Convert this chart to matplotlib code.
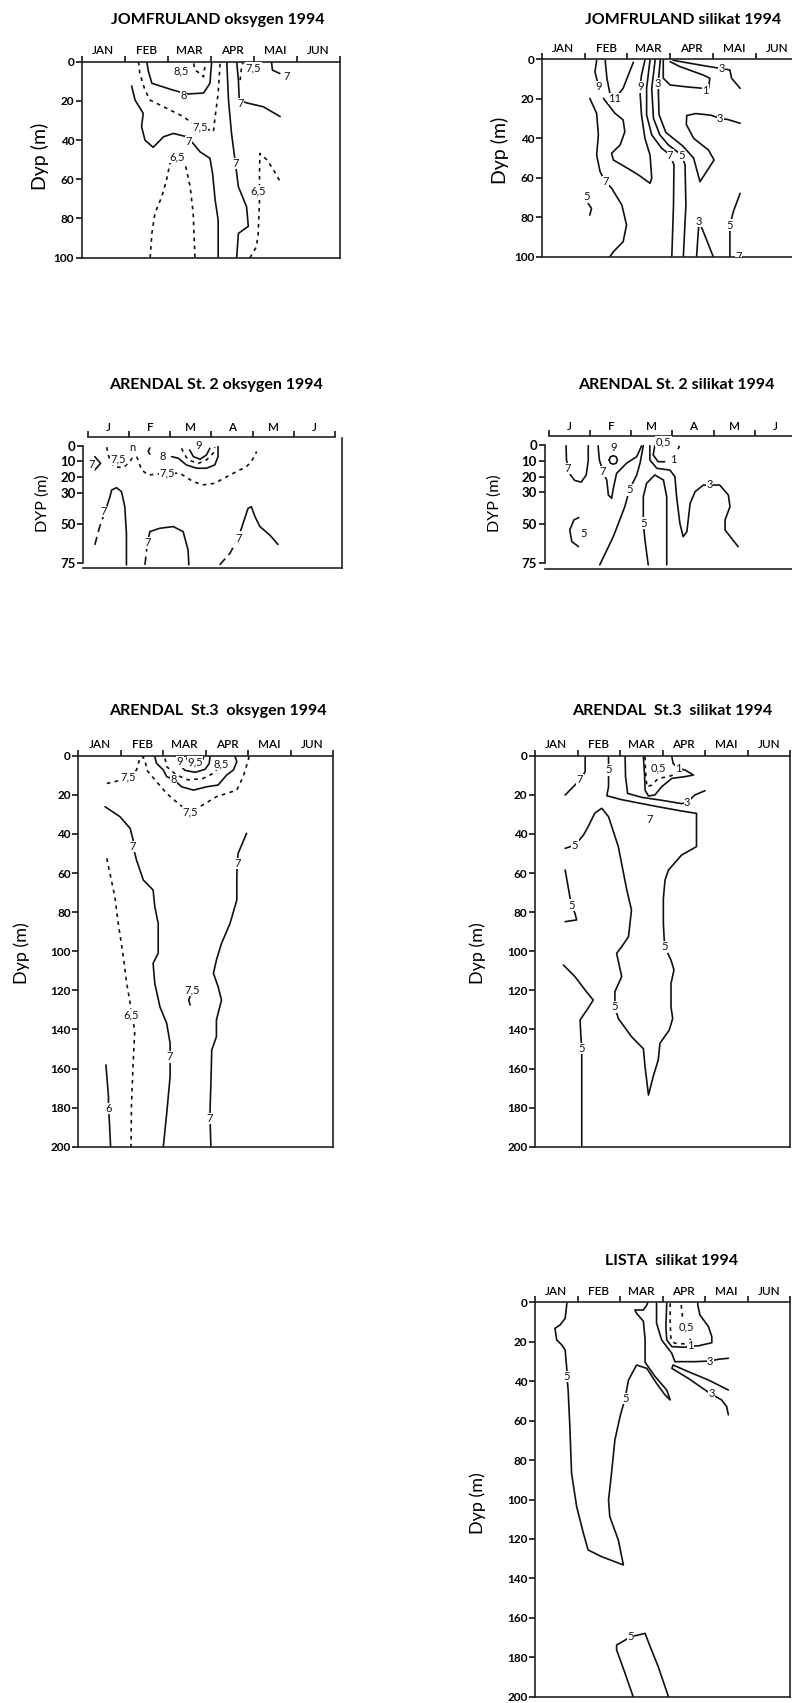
import matplotlib
matplotlib.use("Agg")
import matplotlib.pyplot as plt

W, H = 792, 1703
plt.rcParams['font.family'] = ['Lato', 'DejaVu Sans']

MONTHS_LONG = ['JAN', 'FEB', 'MAR', 'APR', 'MAI', 'JUN']
MONTHS_SHORT = ['J', 'F', 'M', 'A', 'M', 'J']
DEPTH_TICKS_100 = [0, 20, 40, 60, 80, 100]
DEPTH_TICKS_75 = [0, 10, 20, 30, 50, 75]
DEPTH_TICKS_200 = [0, 20, 40, 60, 80, 100, 120, 140, 160, 180, 200]

# ---------------- contour lines: (month since 1 Jan, depth m) ----------------
# JOMFRULAND oksygen
JOM_OX_8 = [(1.51, 0), (1.55, 5), (1.63, 11), (2.05, 14), (2.44, 16.5), (2.83, 16), (2.98, 11), (3.0, 5), (3.02, 0)]
JOM_OX_7A = [(1.16, 12.4), (1.24, 19.6), (1.43, 26.4), (1.39, 33), (1.47, 40), (1.66, 43.7), (1.9, 38.3), (2.13, 36.6),
             (2.44, 38.3), (2.6, 42), (2.75, 46), (2.98, 49.3), (3.04, 57), (3.1, 70.6), (3.17, 80.8), (3.17, 100)]
JOM_OX_7B = [(3.37, 0), (3.41, 19.6), (3.48, 36.6), (3.56, 50), (3.64, 63.8), (3.83, 74), (3.87, 84), (3.64, 87.6), (3.6, 100)]
JOM_OX_7C = [(3.6, 0), (3.64, 9.4), (3.66, 19.6), (3.83, 21), (4.22, 23), (4.61, 28)]
JOM_OX_7D = [(4.41, 0), (4.43, 4.3), (4.6, 6)]
JOM_OX_85 = [(2.6, 0.9), (2.63, 4.3), (2.75, 6), (2.83, 7.7), (2.86, 2.6), (2.83, 0)]
JOM_OX_75A = [(1.32, 0), (1.35, 6), (1.47, 14.5), (1.59, 19.6), (1.9, 23), (2.36, 28), (2.52, 30.6), (2.75, 33),
              (3.06, 35.7), (3.1, 28), (3.17, 16), (3.21, 2.5), (3.21, 0)]
JOM_OX_75B = [(3.68, 9.4), (3.71, 3.4), (3.75, 0)]
JOM_OX_65A = [(1.59, 100), (1.63, 87.6), (1.7, 77.4), (1.86, 68.9), (1.97, 60.4), (2.05, 51.9), (2.21, 48.5), (2.4, 51.9),
              (2.52, 63.8), (2.59, 77.4), (2.63, 100)]
JOM_OX_65B = [(3.91, 100), (4.06, 94.4), (4.1, 87.6), (4.13, 70.6), (4.13, 57), (4.14, 46.8), (4.3, 50), (4.45, 55), (4.61, 61.2)]
JOM_OX_LABELS = [('8', 2.36, 17.5), ('7', 2.48, 40.8), ('7', 3.58, 52), ('7', 3.69, 21.5), ('7', 4.75, 7.5),
                 ('8,5', 2.32, 4.6), ('7,5', 2.75, 33.5), ('7,5', 3.99, 3), ('6,5', 2.21, 48.5), ('6,5', 4.1, 66)]

# JOMFRULAND silikat
JOM_SI_9A = [(1.28, 0.5), (1.24, 6.3), (1.3, 11.5)]
JOM_SI_11 = [(1.48, 0.5), (1.52, 9.6), (1.59, 17.2), (1.71, 19.8), (1.9, 14.7), (2.02, 8), (2.14, 1.5)]
JOM_SI_7 = [(1.12, 19.8), (1.28, 27.4), (1.32, 38.3), (1.28, 48.5), (1.36, 56.9), (1.48, 62), (1.63, 65.3), (1.87, 73.8),
            (1.98, 83.9), (1.9, 92.4), (1.67, 97.5), (1.59, 100)]
JOM_SI_9B = [(1.44, 19.8), (1.71, 27.4), (1.9, 30.7), (1.94, 36.7), (1.83, 43.4), (1.63, 47.6), (1.67, 51), (1.94, 54.4),
             (2.26, 58.6), (2.53, 62.8), (2.57, 60.3), (2.53, 48.5), (2.41, 40), (2.33, 28.2), (2.3, 18.1), (2.3, 13.9),
             (2.33, 8), (2.41, 0.5)]
JOM_SI_7M = [(2.53, 0.3), (2.45, 14.7), (2.45, 28.2), (2.57, 38.3), (2.8, 45), (3.0, 48.5), (3.09, 53.5), (3.08, 73.8), (3.04, 100)]
JOM_SI_5M = [(2.65, 0.3), (2.57, 14.7), (2.61, 29.9), (2.76, 38.3), (2.96, 43.4), (3.27, 48.5), (3.35, 53.5), (3.37, 73.8), (3.31, 100)]
JOM_SI_3M = [(2.77, 0.3), (2.72, 12.2), (2.74, 28), (2.9, 37), (3.3, 44), (3.55, 50), (3.7, 62), (3.85, 57), (4.03, 51),
             (3.9, 46), (3.55, 40), (3.38, 33), (3.39, 28.5), (3.6, 27.5), (3.95, 28.3), (4.17, 29.9), (4.35, 30.5), (4.64, 32.4)]
JOM_SI_1 = [(2.84, 0.5), (2.84, 9.6), (3.0, 13), (3.4, 14), (3.78, 14.7), (3.82, 15.6), (3.9, 14.7), (3.93, 9.6), (3.78, 8),
            (3.23, 3.7), (3.0, 1.2)]
JOM_SI_3T = [(3.07, 0.5), (3.7, 2.9), (4.17, 4.6), (4.4, 5.4), (4.44, 9.6), (4.64, 14.7)]
JOM_SI_3B = [(3.62, 100), (3.66, 87.4), (3.68, 82.3), (3.78, 87.4), (4.01, 100)]
JOM_SI_5R = [(4.64, 67.9), (4.48, 77.2), (4.4, 84), (4.4, 89), (4.4, 100)]
JOM_SI_5L = [(1.08, 73), (1.16, 75.5), (1.12, 78.9)]
JOM_SI_LABELS = [('9', 1.32, 13.9), ('11', 1.71, 19.8), ('7', 1.48, 62), ('9', 2.3, 13.9), ('7', 3.0, 48.5),
                 ('5', 3.27, 48.5), ('3', 2.72, 12.2), ('3', 4.17, 29.9), ('1', 3.82, 15.6), ('3', 4.2, 4.6),
                 ('3', 3.68, 82), ('5', 4.4, 84), ('5', 1.05, 69.6), ('7', 4.6, 100)]

# ARENDAL St. 2 oksygen
AR2_OX_7L = [(0.16, 7), (0.3, 11.3), (0.16, 15.5)]
AR2_OX_75A = [(0.45, 1), (0.49, 6), (0.55, 11), (0.65, 13.5), (0.85, 14), (1.01, 10.4), (1.09, 7), (1.17, 1)]
AR2_OX_75B = [(1.18, 7), (1.3, 15.5), (1.46, 18.7), (1.91, 17.6), (2.23, 17.6), (2.56, 23), (2.8, 25), (3.08, 24),
              (3.45, 18.7), (3.85, 13.4), (3.97, 10.2), (4.1, 3.8)]
AR2_OX_8 = [(2.03, 7), (2.19, 8), (2.39, 12.3), (2.64, 14.4), (2.88, 14.4), (3.08, 12.3), (3.16, 7), (3.16, 0.6)]
AR2_OX_8S = [(1.5, 1.5), (1.46, 3.5), (1.5, 5.5)]
AR2_OX_9 = [(2.47, 2.8), (2.56, 7), (2.72, 8.7), (2.88, 5.9), (2.96, 1.7)]
AR2_OX_85 = [(2.27, 1.7), (2.33, 5), (2.43, 9.1), (2.68, 11.3), (2.88, 9.1), (3.04, 4.9), (3.08, 1)]
AR2_OX_7A_D = [(0.16, 63.3), (0.28, 51.6), (0.45, 38.9)]
AR2_OX_7A = [(0.45, 38.9), (0.53, 32.5), (0.57, 28.3), (0.69, 26.8), (0.81, 29.3), (0.89, 38.9), (0.93, 55.9), (0.93, 76)]
AR2_OX_7B_D = [(1.38, 76), (1.44, 62.2), (1.5, 54.8)]
AR2_OX_7B = [(1.5, 54.8), (1.74, 52.7), (2.07, 51.6), (2.31, 54.8), (2.43, 66.5), (2.45, 76)]
AR2_OX_7C_D = [(3.2, 76), (3.45, 68.6), (3.65, 59), (3.77, 49.5)]
AR2_OX_7C = [(3.77, 49.5), (3.89, 40), (3.97, 38.9), (4.06, 45.3), (4.18, 51.6), (4.42, 57), (4.62, 63)]
AR2_OX_LABELS = [('7', 0.08, 11.9), ('7,5', 0.73, 8.7), ('7,5', 1.91, 17.6), ('8', 1.82, 7), ('9', 2.68, -0.4),
                 ('n', 1.07, 1.5), ('7', 0.38, 42), ('7', 1.44, 62), ('7', 3.65, 59)]

# ARENDAL St. 2 silikat
AR2_SI_7A = [(0.41, 0.5), (0.42, 9.5), (0.52, 19), (0.62, 22.5), (0.78, 23.5), (0.9, 19), (0.95, 10), (0.95, 0.5)]
AR2_SI_7B = [(1.19, 0.5), (1.22, 9.5), (1.31, 16.9), (1.4, 22.2), (1.44, 31.7), (1.52, 33.8), (1.56, 27.5), (1.64, 18),
             (1.88, 11.6), (2.13, 7.4), (2.25, 0.5)]
AR2_SI_9 = [(1.46, 9.5), (1.49, 7.5), (1.56, 6.8), (1.63, 7.5), (1.66, 9.5), (1.63, 11.5), (1.56, 12.2), (1.49, 11.5), (1.46, 9.5)]
AR2_SI_5A = [(1.23, 76), (1.56, 58.1), (1.84, 39.1), (1.95, 28.5), (2.13, 19), (2.21, 11.6), (2.29, 0.5)]
AR2_SI_5B = [(2.41, 76), (2.33, 60.2), (2.29, 49.6), (2.29, 32.8), (2.37, 24.3), (2.57, 19), (2.78, 22.2), (2.86, 32.8), (2.86, 76)]
AR2_SI_3 = [(2.45, 0.5), (2.45, 9.5), (2.62, 14.8), (2.94, 15.9), (3.06, 20.1), (3.1, 32.8), (3.18, 49.6), (3.26, 58.1),
            (3.35, 55), (3.43, 37), (3.55, 29.6), (3.75, 25.4), (3.91, 25.4), (4.15, 25.4), (4.36, 31.7), (4.4, 39.1),
            (4.28, 47.6), (4.28, 53.9), (4.6, 64.5)]
AR2_SI_1 = [(2.57, 0.5), (2.53, 6.3), (2.65, 10.6), (2.81, 10.6)]
AR2_SI_05 = [(3.17, 0.5), (3.1, 5)]
AR2_SI_5C = [(0.72, 46), (0.6, 47.5), (0.5, 53.9), (0.55, 61.2), (0.71, 64.4)]
AR2_SI_LABELS = [('7', 0.46, 14.8), ('7', 1.31, 16.9), ('9', 1.56, 1.5), ('5', 1.95, 28.5), ('5', 2.29, 49.6),
                 ('3', 3.91, 25), ('1', 3.02, 9.5), ('0,5', 2.78, -2.2), ('5', 0.83, 56)]

# ARENDAL St.3 oksygen
AR3_OX_6 = [(0.65, 158.2), (0.71, 174.4), (0.71, 180.4), (0.73, 186.4), (0.76, 200)]
AR3_OX_65 = [(0.67, 52.5), (0.86, 72.1), (0.94, 85.8), (1.06, 102.8), (1.14, 116.5), (1.22, 126.7), (1.25, 132.7),
             (1.33, 140.3), (1.29, 157.4), (1.25, 179.5), (1.24, 200)]
AR3_OX_7L = [(0.63, 26.1), (0.98, 31.2), (1.22, 37.2), (1.29, 43.1), (1.29, 46.5), (1.37, 53.4), (1.53, 63.6), (1.76, 68.7),
             (1.8, 77.2), (1.88, 85.8), (1.88, 101.1), (1.76, 106.2), (1.8, 116.5), (1.92, 128.4), (2.08, 136.9),
             (2.16, 147.1), (2.16, 154), (2.16, 164.2), (2.08, 183), (2.0, 200)]
AR3_OX_7R = [(3.96, 39.7), (3.76, 50), (3.74, 55.1), (3.73, 61.9), (3.73, 73.8), (3.57, 85.8), (3.37, 96), (3.25, 104.5),
             (3.18, 111.3), (3.29, 118.2), (3.37, 125), (3.25, 135.2), (3.25, 143.7), (3.14, 150.6), (3.12, 167.6),
             (3.1, 181.2), (3.1, 185.5), (3.12, 200)]
AR3_OX_75S = [(2.63, 123), (2.6, 125), (2.63, 127.5)]
AR3_OX_75 = [(0.67, 14.2), (0.86, 13.3), (1.18, 11.1), (1.37, 7.3), (1.45, 1.4), (1.5, 0.3), (1.57, 2), (1.61, 7.3),
             (1.84, 13.3), (2.08, 19.3), (2.39, 25.2), (2.63, 28.6), (2.86, 26.1), (3.25, 21), (3.73, 17.6),
             (3.88, 10.7), (4.0, 2.2), (4.02, 0)]
AR3_OX_8 = [(1.8, 0.5), (1.84, 3.9), (2.0, 7.3), (2.08, 10.7), (2.24, 12.1), (2.43, 15.9), (2.71, 17.6), (3.02, 15.9),
            (3.29, 15), (3.49, 9.9), (3.65, 7.3), (3.73, 3.1), (3.69, 0.5)]
AR3_OX_85 = [(2.04, 1.4), (2.08, 5.6), (2.31, 9.9), (2.59, 12.4), (2.94, 11.6), (3.18, 9), (3.3, 6)]
AR3_OX_9 = [(2.31, 0.5), (2.35, 4), (2.51, 7.5), (2.75, 8.5), (2.98, 7), (3.08, 4), (3.1, 0.5)]
AR3_OX_95 = [(2.55, 1), (2.6, 4), (2.75, 5.5), (2.9, 4), (2.95, 0.5)]
AR3_OX_LABELS = [('6', 0.71, 180.4), ('6,5', 1.25, 132.7), ('7', 1.29, 46.5), ('7', 2.16, 154), ('7', 3.74, 55.1),
                 ('7', 3.1, 185.5), ('7,5', 2.67, 119.9), ('7,5', 1.18, 11.1), ('7,5', 2.63, 28.6), ('8', 2.24, 12.1),
                 ('8,5', 3.37, 4.3), ('9', 2.39, 3.1), ('9,5', 2.75, 3.1)]

# ARENDAL St.3 silikat
AR3_SI_7 = [(1.18, 0.5), (1.18, 8.2), (1.06, 12.4), (0.9, 15.9), (0.71, 20.1)]
AR3_SI_5 = [(1.73, 0.5), (1.73, 7.3), (1.73, 15.9), (1.69, 20.5), (2.04, 22.5), (2.82, 25.8), (3.45, 28.3), (3.8, 29.5),
            (3.8, 46.5), (3.45, 50.8), (3.14, 58.5), (3.06, 63.6), (3.02, 73), (3.02, 85.8), (3.05, 97.7), (3.2, 104.5),
            (3.27, 109.6), (3.2, 116.5), (3.2, 128.4), (3.24, 134.4), (3.16, 140.3), (2.94, 147.1), (2.9, 155.6),
            (2.78, 164.2), (2.67, 173.6), (2.59, 159.2), (2.55, 149.9), (2.27, 143.7), (1.96, 134.4), (1.88, 128.4),
            (1.88, 120.7), (2.04, 113), (1.92, 101.1), (2.04, 97.7), (2.2, 92.6), (2.27, 78.9), (2.16, 68.7),
            (1.96, 46.5), (1.73, 31.2), (1.57, 26.9), (1.41, 29.3), (1.25, 36.3), (1.14, 40.6), (0.94, 45.7), (0.71, 47.4)]
AR3_SI_3 = [(2.12, 0.5), (2.13, 10.7), (2.18, 19.3), (2.51, 21.3), (2.98, 22.8), (3.45, 24.5), (3.58, 23.9), (3.76, 20.1), (4.0, 17.9)]
AR3_SI_05 = [(2.59, 0.5), (2.6, 7.3), (2.63, 15.9), (2.75, 15), (2.9, 11.6), (3.14, 10.7), (3.3, 9.5)]
AR3_SI_1 = [(2.55, 0.5), (2.58, 10.7), (2.59, 17.6), (2.67, 20.6), (2.82, 20.1), (2.98, 15.9), (3.22, 11.6), (3.53, 10.7),
            (3.73, 9.9), (3.53, 7.3), (3.37, 6.5), (3.25, 3.9), (3.22, 0.5)]
AR3_SI_5B = [(0.71, 58.5), (0.82, 72.1), (0.86, 76.4), (0.94, 80.6), (0.98, 84), (0.71, 84.9)]
AR3_SI_5C = [(0.67, 107.1), (0.94, 113), (1.18, 119.9), (1.37, 125), (1.22, 130.1), (1.06, 135.2), (1.08, 143.7),
             (1.1, 149.7), (1.1, 162.5), (1.1, 200)]
AR3_SI_LABELS = [('7', 1.06, 12.4), ('5', 1.73, 7.3), ('5', 3.05, 97.7), ('5', 1.88, 128.4), ('5', 0.94, 45.7),
                 ('3', 3.58, 24), ('0,5', 2.9, 6.5), ('1', 3.37, 6.5), ('7', 2.7, 32.5), ('5', 0.86, 76.4),
                 ('5', 1.1, 149.7)]

# LISTA silikat
LIS_5A = [(0.75, 0.5), (0.71, 8.1), (0.59, 11.5), (0.47, 13.2), (0.51, 19.1), (0.63, 21.6), (0.71, 24.2), (0.75, 34.3),
          (0.75, 37.7), (0.78, 44.5), (0.82, 63.1), (0.86, 86.7), (0.98, 103.6), (1.14, 117.2), (1.25, 125.6), (1.57, 129),
          (2.08, 133.2), (1.96, 120.5), (1.76, 108.7), (1.73, 100.3), (1.8, 86.7), (1.88, 69.8), (2.0, 58), (2.12, 48.7),
          (2.2, 39.4), (2.39, 31.8), (2.63, 33.5), (2.86, 41.1), (3.06, 47), (3.18, 49.5), (3.1, 44.5), (2.82, 37.5),
          (2.59, 30.4), (2.59, 18.6), (2.55, 9.6), (2.39, 5.6), (2.35, 3.9), (2.55, 3.9), (2.63, 1.4), (2.65, 0.3)]
LIS_3A = [(2.86, 0.5), (2.86, 10.6), (2.98, 19.1), (3.22, 25.9), (3.29, 30.1), (3.76, 30.1), (4.12, 29.8), (4.31, 28.9), (4.55, 28.4)]
LIS_3B = [(4.55, 44.5), (4.08, 39.4), (3.61, 35.2), (3.25, 31.8), (3.22, 33.5), (3.61, 38.6), (4.12, 46.2), (4.39, 49.5),
          (4.51, 52.9), (4.55, 57.1)]
LIS_1 = [(3.1, 0.5), (3.08, 12.3), (3.1, 19.1), (3.22, 22.5), (3.53, 22.8), (3.65, 22.1), (3.84, 22.1), (4.16, 20.5),
         (4.16, 17.4), (4.08, 12.3), (3.88, 6.4), (3.83, 1.4), (3.83, 0.3)]
LIS_05A = [(3.18, 0.5), (3.18, 10.7), (3.2, 19.1), (3.29, 20.8), (3.53, 21.1), (3.65, 19.1), (3.69, 16.6)]
LIS_05B = [(3.44, 1.4), (3.47, 7.3)]
LIS_5B = [(2.31, 200), (2.12, 188.2), (1.92, 176.3), (1.92, 173.8), (2.12, 171.3), (2.25, 169.6), (2.59, 167.9),
          (2.71, 174.6), (2.9, 184.8), (3.14, 200)]
LIS_LABELS = [('5', 0.75, 37.7), ('5', 2.12, 48.7), ('3', 4.12, 29.8), ('3', 4.16, 46.5), ('1', 3.65, 22.1),
              ('0,5', 3.57, 12.7), ('5', 2.25, 169.6)]

# ---------------------------------------------------------------------------
STYLES = {'solid': '-', 'dash': (0, (2.2, 2.6)), 'long': (0, (5, 3))}

fig = plt.figure(figsize=(W / 100, H / 100), dpi=100)
fig.patch.set_facecolor('white')


def add_axes_px(left, top, right, bottom):
    return fig.add_axes([left / W, 1 - bottom / H, (right - left) / W, (bottom - top) / H])


def ftext(x, y, s, **kw):
    fig.text(x / W, 1 - y / H, s, **kw)


def panel(box, xlim, ylim, months, yticks, lines, labels, title, title_xy, ylabel, ylabel_xy,
          tick_fs=8.5, month_fs=8.5, ylabel_fs=13, title_fs=11.5, short=False):
    ax = add_axes_px(*box)
    ax.set_xlim(*xlim)
    ax.set_ylim(*ylim)
    for data, style in lines:
        xs = [p[0] for p in data]
        ys = [p[1] for p in data]
        ax.plot(xs, ys, color='#111111', lw=1.2, linestyle=STYLES[style],
                solid_capstyle='round', solid_joinstyle='round', clip_on=True)
    for s, x, y in labels:
        ax.text(x, y, s, fontsize=8, ha='center', va='center', color='#111111',
                bbox=dict(fc='white', ec='none', pad=0.2), zorder=5, clip_on=True)
    ax.set_xticks(range(7))
    ax.set_xticklabels([''] * 7)
    ax.set_xticks([m + 0.5 for m in range(6)], minor=True)
    ax.set_xticklabels(months, minor=True, fontsize=month_fs, fontweight='semibold')
    ax.tick_params(axis='x', which='major', top=True, bottom=False, direction='out', length=4, width=1.1)
    ax.tick_params(axis='x', which='minor', top=True, bottom=False, labeltop=True, labelbottom=False,
                   length=0, pad=3 if short else 4)
    ax.tick_params(axis='x', which='major', labeltop=False, labelbottom=False)
    ax.set_yticks(yticks)
    ax.set_yticklabels([str(t) for t in yticks], fontsize=tick_fs, fontweight='bold')
    ax.tick_params(axis='y', direction='out', length=4, width=1.1, pad=1.5)
    for sp in ax.spines.values():
        sp.set_linewidth(1.2)
        sp.set_color('#222222')
    if short:
        ax.spines['top'].set_bounds(0, 6)
        ax.spines['left'].set_bounds(0, 75)
        ax.spines['right'].set_bounds(ylim[0], ylim[1] + 1)
    ftext(title_xy[0], title_xy[1], title, fontsize=title_fs, fontweight='bold', ha='center', va='center')
    ftext(ylabel_xy[0], ylabel_xy[1], ylabel, fontsize=ylabel_fs, rotation=90, ha='center', va='center')
    return ax


# JOMFRULAND oksygen
panel((81.7, 61.7, 340, 257.7), (0, 6), (100, 0), MONTHS_LONG, DEPTH_TICKS_100,
      [(JOM_OX_8, 'solid'), (JOM_OX_7A, 'solid'), (JOM_OX_7B, 'solid'), (JOM_OX_7C, 'solid'), (JOM_OX_7D, 'solid'),
       (JOM_OX_85, 'dash'), (JOM_OX_75A, 'dash'), (JOM_OX_75B, 'dash'), (JOM_OX_65A, 'dash'), (JOM_OX_65B, 'dash')],
      JOM_OX_LABELS, 'JOMFRULAND oksygen 1994', (218, 20), 'Dyp (m)', (40, 156), ylabel_fs=14)

# JOMFRULAND silikat
panel((542, 59.3, 798.2, 256.7), (0, 6), (100, 0), MONTHS_LONG, DEPTH_TICKS_100,
      [(JOM_SI_9A, 'solid'), (JOM_SI_11, 'solid'), (JOM_SI_7, 'solid'), (JOM_SI_9B, 'solid'), (JOM_SI_7M, 'solid'),
       (JOM_SI_5M, 'solid'), (JOM_SI_3M, 'solid'), (JOM_SI_1, 'solid'), (JOM_SI_3T, 'solid'), (JOM_SI_3B, 'solid'),
       (JOM_SI_5R, 'solid'), (JOM_SI_5L, 'solid')],
      JOM_SI_LABELS, 'JOMFRULAND silikat 1994', (683, 20), 'Dyp (m)', (500, 150), ylabel_fs=14)

# ARENDAL St. 2 oksygen
panel((83.3, 436.7, 341.7, 568.3), (-0.12, 6.17), (78.2, -5.7), MONTHS_SHORT, DEPTH_TICKS_75,
      [(AR2_OX_7L, 'solid'), (AR2_OX_75A, 'dash'), (AR2_OX_75B, 'dash'), (AR2_OX_8, 'solid'), (AR2_OX_8S, 'solid'),
       (AR2_OX_9, 'solid'), (AR2_OX_85, 'dash'), (AR2_OX_7A_D, 'long'), (AR2_OX_7A, 'solid'), (AR2_OX_7B_D, 'long'),
       (AR2_OX_7B, 'solid'), (AR2_OX_7C_D, 'long'), (AR2_OX_7C, 'solid')],
      AR2_OX_LABELS, 'ARENDAL St. 2 oksygen 1994', (216, 385), 'DYP (m)', (43, 503),
      tick_fs=9.5, ylabel_fs=11.5, short=True)

# ARENDAL St. 2 silikat
panel((544.7, 436, 802.7, 569.3), (-0.11, 6.17), (78.8, -5.7), MONTHS_SHORT, DEPTH_TICKS_75,
      [(AR2_SI_7A, 'solid'), (AR2_SI_7B, 'solid'), (AR2_SI_9, 'solid'), (AR2_SI_5A, 'solid'), (AR2_SI_5B, 'solid'),
       (AR2_SI_3, 'solid'), (AR2_SI_1, 'solid'), (AR2_SI_05, 'dash'), (AR2_SI_5C, 'solid')],
      AR2_SI_LABELS, 'ARENDAL St. 2 silikat 1994', (676, 385), 'DYP (m)', (495, 503),
      tick_fs=9.5, ylabel_fs=11.5, short=True)

# ARENDAL St.3 oksygen
panel((78.3, 755.7, 333.3, 1146.7), (0, 6), (200, 0), MONTHS_LONG, DEPTH_TICKS_200,
      [(AR3_OX_6, 'solid'), (AR3_OX_65, 'dash'), (AR3_OX_7L, 'solid'), (AR3_OX_7R, 'solid'), (AR3_OX_75S, 'solid'),
       (AR3_OX_75, 'dash'), (AR3_OX_8, 'solid'), (AR3_OX_85, 'dash'), (AR3_OX_9, 'solid'), (AR3_OX_95, 'dash')],
      AR3_OX_LABELS, 'ARENDAL  St.3  oksygen 1994', (218, 711), 'Dyp (m)', (22, 953))

# ARENDAL St.3 silikat
panel((535, 755.7, 790, 1146.7), (0, 6), (200, 0), MONTHS_LONG, DEPTH_TICKS_200,
      [(AR3_SI_7, 'solid'), (AR3_SI_5, 'solid'), (AR3_SI_3, 'solid'), (AR3_SI_05, 'dash'), (AR3_SI_1, 'solid'),
       (AR3_SI_5B, 'solid'), (AR3_SI_5C, 'solid')],
      AR3_SI_LABELS, 'ARENDAL  St.3  silikat 1994', (672, 711), 'Dyp (m)', (478, 953))

# LISTA silikat
panel((535, 1302.3, 790, 1696.7), (0, 6), (200, 0), MONTHS_LONG, DEPTH_TICKS_200,
      [(LIS_5A, 'solid'), (LIS_3A, 'solid'), (LIS_3B, 'solid'), (LIS_1, 'solid'), (LIS_05A, 'dash'),
       (LIS_05B, 'dash'), (LIS_5B, 'solid')],
      LIS_LABELS, 'LISTA  silikat 1994', (672, 1261), 'Dyp (m)', (478, 1503))

fig.savefig('out.png', dpi=100, facecolor='white')
